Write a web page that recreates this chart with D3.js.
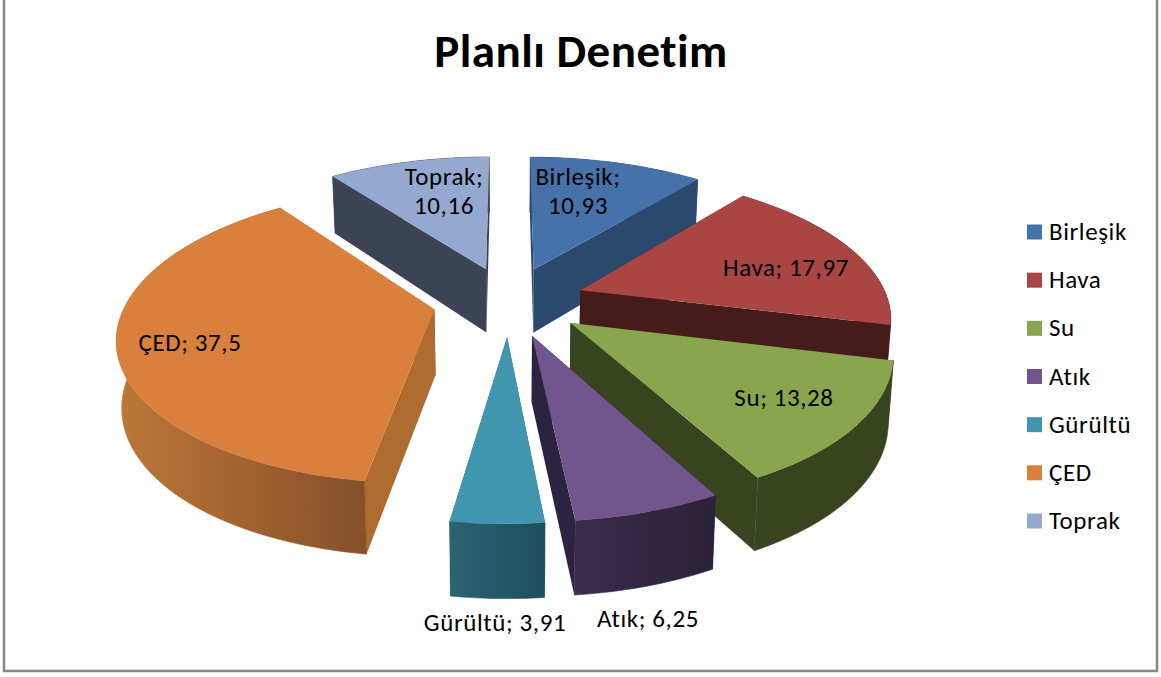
<!DOCTYPE html>
<html>
<head>
<meta charset="utf-8">
<script src="https://cdn.jsdelivr.net/npm/d3@7"></script>
<style>
  html, body { margin: 0; padding: 0; background: #fff; }
  svg { display: block; }
  text { font-family: Carlito, Lato, "Open Sans", sans-serif; fill: #000; font-variant-ligatures: none; }
</style>
</head>
<body>
<div class="piechart"></div>
<script>
const categories = ["Birleşik", "Hava", "Su", "Atık", "Gürültü", "ÇED", "Toprak"];
const values = [10.93, 17.97, 13.28, 6.25, 3.91, 37.5, 10.16];
const topColors = ["#4672a9", "#a94543", "#89a54e", "#71568e", "#4096ae", "#d8803c", "#93a9d0"];
const sideColors = ["#2a496d", "#461c1b", "#38431f", "#2c2340", "#25586a", "#ae6c30", "#3c4354"];
const wallLight = ["#2a496d", "#461c1b", "#38431f", "#3b2c4e", "#2a6372", "#be7736", "#3c4354"];
const wallDark = ["#2a496d", "#461c1b", "#38431f", "#2a2238", "#204e5b", "#85502a", "#3c4354"];

// label anchors, one row per category, second line only where the label wraps
const labelX = [578, 786, 784, 648, 495, 190, 444];
const labelY = [185, 276, 406, 627, 631, 351, 185];
const labelWrap = [true, false, false, false, false, false, true];

const width = 1161;
const height = 677;

// ground plane -> screen, a small perspective camera fitted by eye
const cx = 509, cy = 301, radius = 308, explode = 76;
const tilt = 0.458, camera = 1820, depth = 65;

const comma = v => String(v).replace(".", ",");

const svg = d3.select(".piechart")
    .append("svg")
    .attr("width", width)
    .attr("height", height)
    .attr("viewBox", [0, 0, width, height]);

// chart frame, top edge is cut off in the original
svg.append("path")
    .attr("d", "M4,0V671H1157V0")
    .attr("fill", "none")
    .attr("stroke", "#868686")
    .attr("stroke-width", 2.5);

svg.append("text")
    .attr("x", 581)
    .attr("y", 67)
    .attr("text-anchor", "middle")
    .attr("font-size", 47)
    .attr("font-weight", "bold")
    .attr("letter-spacing", 0.5)
    .text("Planlı Denetim");

const pie = d3.pie().sort(null).value(d => d.value);
const arcs = pie(categories.map((name, i) => ({ name, value: values[i], i })));

function project(X, Y, down) {
    const s = 1 / (1 - Y / camera);
    const x = X * s;
    const y = tilt * Y * s;
    if (!down) return [cx + x, cy + y];
    const k = 1 + 0.12 * Y / radius;
    return [cx + x * 0.986, cy + y + depth * k];
}

function pointOn(a, angle, r, down) {
    const mid = (a.startAngle + a.endAngle) / 2;
    const X = explode * Math.sin(mid) + r * Math.sin(angle);
    const Y = -explode * Math.cos(mid) - r * Math.cos(angle);
    return project(X, Y, down);
}

function arcAngles(a) {
    const n = Math.max(6, Math.ceil((a.endAngle - a.startAngle) / 0.03));
    return d3.range(n + 1).map(k => a.startAngle + (a.endAngle - a.startAngle) * k / n);
}

const line = d3.line().curve(d3.curveLinear);
const defs = svg.append("defs");
const pieG = svg.append("g");

// back to front so nearer slices paint over the farther ones
const drawOrder = arcs.slice().sort((a, b) =>
    Math.cos((b.startAngle + b.endAngle) / 2) <= Math.cos((a.startAngle + a.endAngle) / 2) ? -1 : 1);

drawOrder.forEach(a => {
    const i = a.data.i;
    const angles = arcAngles(a);
    const g = pieG.append("g").attr("class", "slice");

    // two cut faces
    [a.startAngle, a.endAngle].forEach(t => {
        g.append("path")
            .attr("d", line([pointOn(a, 0, 0, false), pointOn(a, t, radius, false),
                             pointOn(a, t, radius, true), pointOn(a, 0, 0, true)]) + "Z")
            .attr("fill", sideColors[i]);
    });

    // outer rim
    const rimTop = angles.map(t => pointOn(a, t, radius, false));
    const rimBottom = angles.map(t => pointOn(a, t, radius, true)).reverse();
    const xs = rimTop.map(p => p[0]);
    const grad = defs.append("linearGradient")
        .attr("id", "rim" + i)
        .attr("gradientUnits", "userSpaceOnUse")
        .attr("x1", d3.min(xs)).attr("x2", d3.max(xs))
        .attr("y1", 0).attr("y2", 0);
    grad.append("stop").attr("offset", 0).attr("stop-color", wallLight[i]);
    grad.append("stop").attr("offset", 1).attr("stop-color", wallDark[i]);
    g.append("path")
        .attr("d", line(rimTop.concat(rimBottom)) + "Z")
        .attr("fill", `url(#rim${i})`)
        .attr("stroke", `url(#rim${i})`)
        .attr("stroke-width", 0.6);

    // top face
    g.append("path")
        .attr("d", line([pointOn(a, 0, 0, false)].concat(rimTop)) + "Z")
        .attr("fill", topColors[i]);
});

// data labels
categories.forEach((name, i) => {
    const t = svg.append("text")
        .attr("class", "data-label")
        .attr("text-anchor", "middle")
        .attr("font-size", 25)
        .attr("letter-spacing", 0.6);
    if (labelWrap[i]) {
        t.append("tspan").attr("x", labelX[i]).attr("y", labelY[i]).text(name + ";");
        t.append("tspan").attr("x", labelX[i]).attr("y", labelY[i] + 29).text(comma(values[i]));
    } else {
        t.attr("x", labelX[i]).attr("y", labelY[i]).text(`${name}; ${comma(values[i])}`);
    }
});

// legend
const legendY = d3.scalePoint().domain(categories).range([232, 521]);
const legend = svg.append("g").selectAll("g")
    .data(categories)
    .enter()
    .append("g")
    .attr("transform", d => `translate(1027, ${legendY(d)})`);
legend.append("rect")
    .attr("x", 0).attr("y", -7.5)
    .attr("width", 15).attr("height", 15)
    .attr("fill", (d, i) => topColors[i]);
legend.append("text")
    .attr("x", 22).attr("y", 8)
    .attr("font-size", 25)
    .attr("letter-spacing", 0.6)
    .text(d => d);
</script>
</body>
</html>
